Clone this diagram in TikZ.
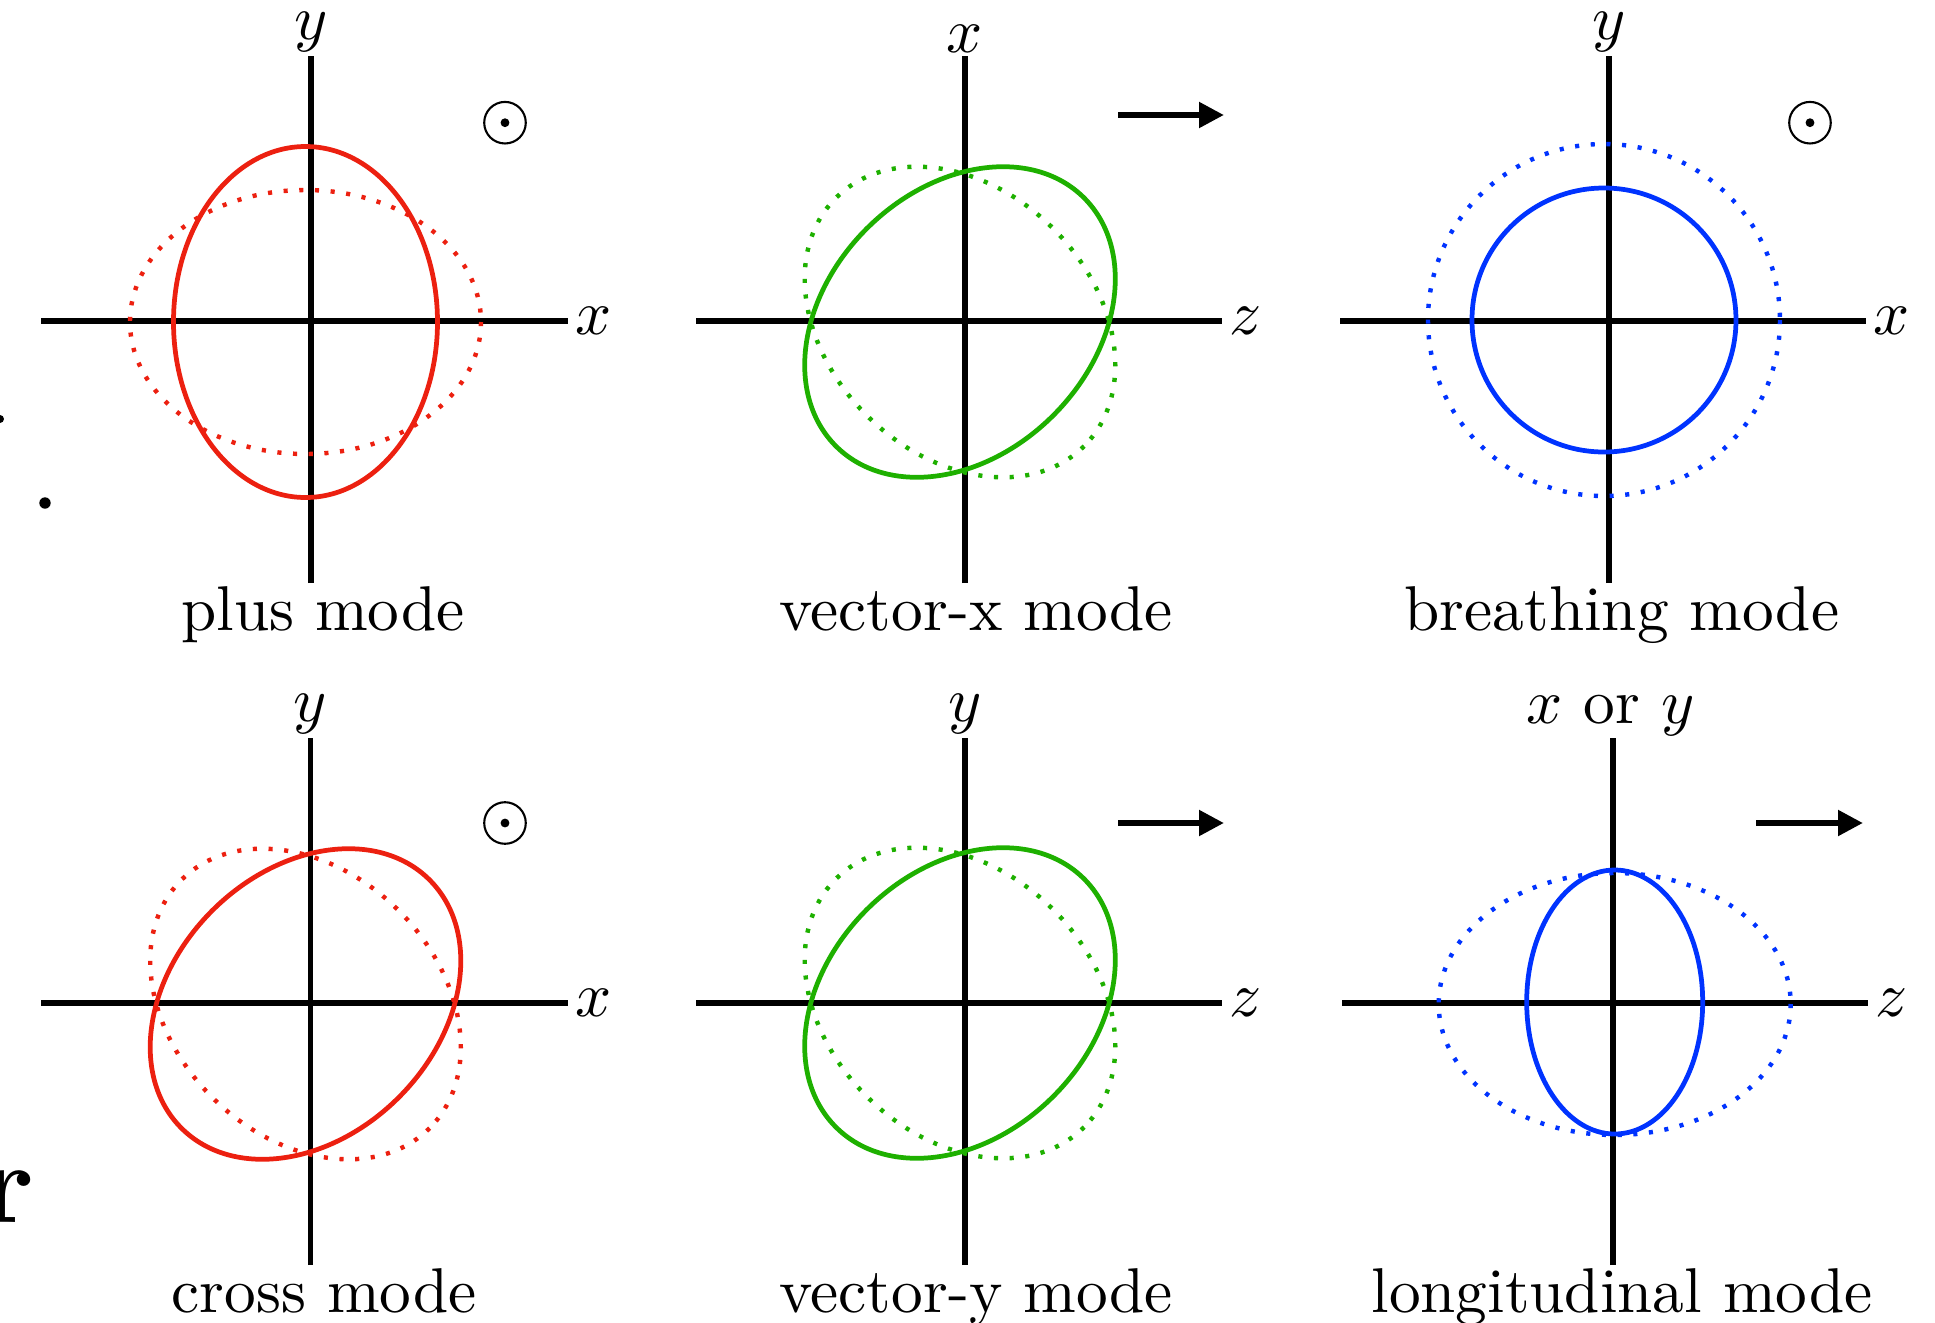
\documentclass[tikz,border=0pt]{standalone}
\usetikzlibrary{arrows.meta}
\definecolor{gwred}{RGB}{236,32,16}
\definecolor{gwgreen}{RGB}{30,176,0}
\definecolor{gwblue}{RGB}{0,51,255}
\tikzset{
  axisline/.style={line width=0.8pt, black},
  solidcurve/.style={line width=0.75pt},
  dotcurve/.style={line width=0.7pt, dash pattern=on 0.65pt off 1.83pt},
  toplabel/.style={anchor=south, inner sep=0.2pt},
  rightlabel/.style={anchor=west, inner sep=0.8pt},
  modelabel/.style={anchor=base, inner sep=0pt},
  propdir/.style={line width=0.95pt, -{Triangle[length=3.95pt,width=3.9pt]}},
  odotsym/.style={circle, draw, line width=0.33pt, minimum size=6.57pt, inner sep=0pt,
    path picture={\fill (path picture bounding box.center) circle (0.7pt);}},
}
\begin{document}
\begin{tikzpicture}[x=0.158pt,y=-0.158pt]
\useasboundingbox (0,0) rectangle (1935,1323);

% ---------- left-edge remnants ----------
\fill (0,419) circle [radius=4];
\fill (45,503) circle [radius=5.7];
\node[font=\fontsize{18.2}{20}\selectfont\bfseries, anchor=base east, inner sep=0pt] (rr) at (36,1222) {r};

% ---------- plus mode ----------
\draw[axisline] (41,321) -- (568,321) node[rightlabel] (p1x) {$x$};
\draw[axisline] (311,583) -- (311,56) node[toplabel] (p1y) {$y$};
\draw[solidcurve, gwred] (305.5,322) ellipse [x radius=132, y radius=175.5];
\draw[dotcurve, gwred] (305.5,322) ellipse [x radius=175.5, y radius=132];
\node[odotsym] (o1) at (505,122.7) {};
\node[modelabel] (l1) at (323,630) {plus mode};

% ---------- vector-x mode ----------
\draw[axisline] (696,321) -- (1222,321) node[rightlabel] (p2z) {$z$};
\draw[axisline] (965,583) -- (965,56) node[toplabel] (p2x) {$x$};
\draw[solidcurve, gwgreen, rotate around={45:(960,322)}] (960,322) ellipse [x radius=175.5, y radius=132];
\draw[dotcurve, gwgreen, rotate around={-45:(960,322)}] (960,322) ellipse [x radius=175.5, y radius=132];
\coordinate (a1s) at (1118,115);
\coordinate (a1e) at (1224,115);
\draw[propdir] (a1s) -- (a1e);
\node[modelabel] (l2) at (976,630) {vector-x mode};

% ---------- breathing mode ----------
\draw[axisline] (1340,321) -- (1866,321) node[rightlabel] (p3x) {$x$};
\draw[axisline] (1609,583) -- (1609,56) node[toplabel] (p3y) {$y$};
\draw[solidcurve, gwblue] (1604,320) circle [radius=132];
\draw[dotcurve, gwblue] (1604,320) circle [radius=176];
\node[odotsym] (o3) at (1810,122.7) {};
\node[modelabel] (l3) at (1622,630) {breathing mode};

% ---------- cross mode ----------
\draw[axisline] (41,1003) -- (568,1003) node[rightlabel] (p4x) {$x$};
\draw[axisline] (310.5,1265) -- (310.5,738) node[toplabel] (p4y) {$y$};
\draw[solidcurve, gwred, rotate around={45:(305.5,1004)}] (305.5,1004) ellipse [x radius=175.5, y radius=132];
\draw[dotcurve, gwred, rotate around={-45:(305.5,1004)}] (305.5,1004) ellipse [x radius=175.5, y radius=132];
\node[odotsym] (o4) at (505,823) {};
\node[modelabel] (l4) at (324,1312) {cross mode};

% ---------- vector-y mode ----------
\draw[axisline] (696,1003) -- (1222,1003) node[rightlabel] (p5z) {$z$};
\draw[axisline] (965,1265) -- (965,738) node[toplabel] (p5y) {$y$};
\draw[solidcurve, gwgreen, rotate around={45:(960,1003)}] (960,1003) ellipse [x radius=175.5, y radius=132];
\draw[dotcurve, gwgreen, rotate around={-45:(960,1003)}] (960,1003) ellipse [x radius=175.5, y radius=132];
\coordinate (a2s) at (1118,823);
\coordinate (a2e) at (1224,823);
\draw[propdir] (a2s) -- (a2e);
\node[modelabel] (l5) at (976,1312) {vector-y mode};

% ---------- longitudinal mode ----------
\draw[axisline] (1342,1003) -- (1868,1003) node[rightlabel] (p6z) {$z$};
\draw[axisline] (1613,1265) -- (1613,738) coordinate (p6top);
\node[modelabel] (p6xy) at (1610.5,723) {$x$ or $y$};
\draw[solidcurve, gwblue] (1614.7,1002) ellipse [x radius=88, y radius=132];
\draw[dotcurve, gwblue] (1614.7,1004) ellipse [x radius=176, y radius=131];
\coordinate (a3s) at (1756,823);
\coordinate (a3e) at (1863,823);
\draw[propdir] (a3s) -- (a3e);
\node[modelabel] (l6) at (1622,1312) {longitudinal mode};
\end{tikzpicture}
\end{document}
